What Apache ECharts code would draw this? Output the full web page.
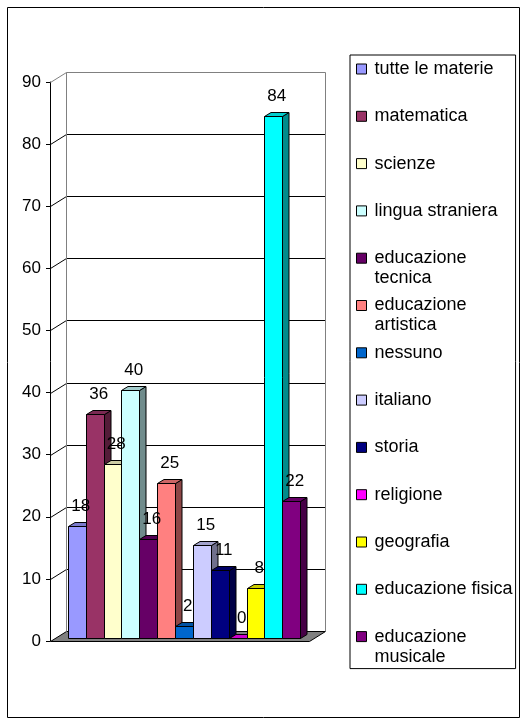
<!DOCTYPE html>
<html>
<head>
<meta charset="utf-8">
<title>Materie preferite</title>
<script src="https://cdn.jsdelivr.net/npm/echarts@6/dist/echarts.min.js"></script>
<style>
  html, body { margin: 0; padding: 0; background: #fff; }
  #main { width: 528px; height: 725px; }
</style>
</head>
<body>
<div id="main"></div>
<script>
// dati
var materie = ['tutte le materie', 'matematica', 'scienze', 'lingua straniera', 'educazione tecnica',
  'educazione artistica', 'nessuno', 'italiano', 'storia', 'religione', 'geografia',
  'educazione fisica', 'educazione musicale'];
var valori = [18, 36, 28, 40, 16, 25, 2, 15, 11, 0, 8, 84, 22];
var colori = ['#9999ff', '#993366', '#ffffcc', '#ccffff', '#660066', '#ff8080', '#0066cc',
  '#ccccff', '#000080', '#ff00ff', '#ffff00', '#00ffff', '#800080'];
var tacche = [0, 10, 20, 30, 40, 50, 60, 70, 80, 90];

(function () {
  var FONT = '"Liberation Sans", Arial, sans-serif';
  var DX = 16, DY = 10;        // profondita delle pareti
  var BDX = 4.5, BDY = 3;      // posizione della barra nella profondita
  var SDX = 6.5, SDY = 4;      // spessore della barra
  var grigio = '#808080';

  function px(v) { return Math.round(v) + 0.5; }

  //colore piu scuro per le facce laterali
  function scuro(hex, f) {
    var n = parseInt(hex.slice(1), 16);
    var r = Math.round(((n >> 16) & 255) * f);
    var g = Math.round(((n >> 8) & 255) * f);
    var b = Math.round((n & 255) * f);
    return 'rgb(' + r + ',' + g + ',' + b + ')';
  }

  //pareti, pavimento e griglia
  function disegnaPareti(params, api) {
    var cs = params.coordSys;
    var v = api.value(1);
    var y = px(api.coord([0, v])[1]);
    var y0 = px(api.coord([0, 0])[1]);
    var x0 = px(cs.x), x1 = px(cs.x + cs.width);
    var ultimo = v === tacche[tacche.length - 1];
    var col = ultimo ? grigio : '#000';
    var children = [];
    if (v === 0) {
      children.push({
        type: 'polygon',
        shape: { points: [[x0, y], [x1, y], [x1 + DX, y - DY], [x0 + DX, y - DY]] },
        style: { fill: grigio, stroke: '#000', lineWidth: 1 }
      });
    } else {
      children.push({
        type: 'line',
        shape: { x1: x0, y1: y, x2: x0 + DX, y2: y - DY },
        style: { stroke: col, lineWidth: 1 }
      });
      children.push({
        type: 'line',
        shape: { x1: x0 + DX, y1: y - DY, x2: x1 + DX, y2: y - DY },
        style: { stroke: col, lineWidth: 1 }
      });
    }
    if (ultimo) {
      children.push({
        type: 'line',
        shape: { x1: x0 + DX, y1: y0 - DY, x2: x0 + DX, y2: y - DY },
        style: { stroke: grigio, lineWidth: 1 }
      });
      children.push({
        type: 'line',
        shape: { x1: x1 + DX, y1: y0 - DY, x2: x1 + DX, y2: y - DY },
        style: { stroke: grigio, lineWidth: 1 }
      });
    }
    return { type: 'group', children: children };
  }

  //barra 3d per la materia i
  function disegnaBarra(i) {
    return function (params, api) {
      var v = api.value(1);
      var base = api.coord([0, 0]);
      var cima = api.coord([0, v]);
      var w = api.size([1, 0])[0] * 0.069;
      var xl = px(base[0] + (i - (materie.length - 1) / 2) * w - w / 2 + BDX);
      var xr = px(base[0] + (i - (materie.length - 1) / 2) * w + w / 2 + BDX);
      var yb = px(base[1] - BDY);
      var yt = px(cima[1] - BDY);
      var c = colori[i];
      return {
        type: 'group',
        children: [
          {
            type: 'polygon',
            shape: { points: [[xr, yt], [xr + SDX, yt - SDY], [xr + SDX, yb - SDY], [xr, yb]] },
            style: { fill: scuro(c, 0.55), stroke: '#000', lineWidth: 1 }
          },
          {
            type: 'polygon',
            shape: { points: [[xl, yt], [xr, yt], [xr + SDX, yt - SDY], [xl + SDX, yt - SDY]] },
            style: { fill: scuro(c, 0.8), stroke: '#000', lineWidth: 1 }
          },
          {
            type: 'rect',
            shape: { x: xl, y: yt, width: xr - xl, height: yb - yt },
            style: { fill: c, stroke: '#000', lineWidth: 1 }
          },
          {
            type: 'text',
            z2: 100,
            style: {
              text: String(v),
              x: (xl + xr) / 2 + SDX / 2,
              y: yt - 20,
              fill: '#000',
              font: '17px ' + FONT,
              align: 'center', verticalAlign: 'middle',
              textAlign: 'center', textVerticalAlign: 'middle'
            }
          }
        ]
      };
    };
  }

  //va a capo se il nome e troppo largo per la legenda
  var ctx = document.createElement('canvas').getContext('2d');
  ctx.font = '18px ' + FONT;
  function etichetta(name) {
    var l1 = name, l2 = ' ';
    if (ctx.measureText(name).width > 145) {
      var k = name.lastIndexOf(' ');
      l1 = name.slice(0, k);
      l2 = name.slice(k + 1);
    }
    return '{a|' + l1 + '}\n{b|' + l2 + '}';
  }

  var myChart = echarts.init(document.getElementById('main'));

  var series = [{
    type: 'custom',
    name: 'pareti',
    z: 1,
    silent: true,
    renderItem: disegnaPareti,
    data: tacche.map(function (t) { return [0, t]; })
  }];
  materie.forEach(function (m, i) {
    series.push({
      type: 'custom',
      name: m,
      z: 2,
      itemStyle: { color: colori[i] },
      renderItem: disegnaBarra(i),
      data: [[0, valori[i]]]
    });
  });

  var option = {
    animation: false,
    backgroundColor: '#fff',
    grid: { left: 50, top: 82, width: 259, height: 559 },
    xAxis: {
      type: 'category',
      data: [''],
      axisLine: { show: false },
      axisTick: { show: false },
      axisLabel: { show: false },
      splitLine: { show: false }
    },
    yAxis: {
      type: 'value',
      min: 0,
      max: 90,
      interval: 10,
      axisLine: { show: true, lineStyle: { color: '#000', width: 1 } },
      axisTick: { show: true, length: 4, lineStyle: { color: '#000' } },
      axisLabel: { color: '#000', fontSize: 17, fontFamily: FONT, margin: 9 },
      splitLine: { show: false }
    },
    legend: {
      orient: 'vertical',
      left: 350,
      top: 55,
      padding: [5, 3, 3, 6],
      itemGap: 9.3,
      itemWidth: 10,
      itemHeight: 10,
      icon: 'rect',
      itemStyle: { borderColor: '#000', borderWidth: 1 },
      borderColor: '#000',
      borderWidth: 1,
      selectedMode: false,
      data: materie,
      formatter: etichetta,
      textStyle: {
        padding: [0, 0, 0, 3],
        rich: {
          a: { fontSize: 18, fontFamily: FONT, color: '#000', lineHeight: 20 },
          b: { fontSize: 18, fontFamily: FONT, color: '#000', lineHeight: 0, height: 20, verticalAlign: 'top' }
        }
      }
    },
    graphic: [{
      type: 'rect',
      silent: true,
      shape: { x: 7.5, y: 7.5, width: 512, height: 710 },
      style: { fill: 'none', stroke: '#000', lineWidth: 1 }
    }],
    series: series
  };

  myChart.setOption(option);
})();
</script>
</body>
</html>
